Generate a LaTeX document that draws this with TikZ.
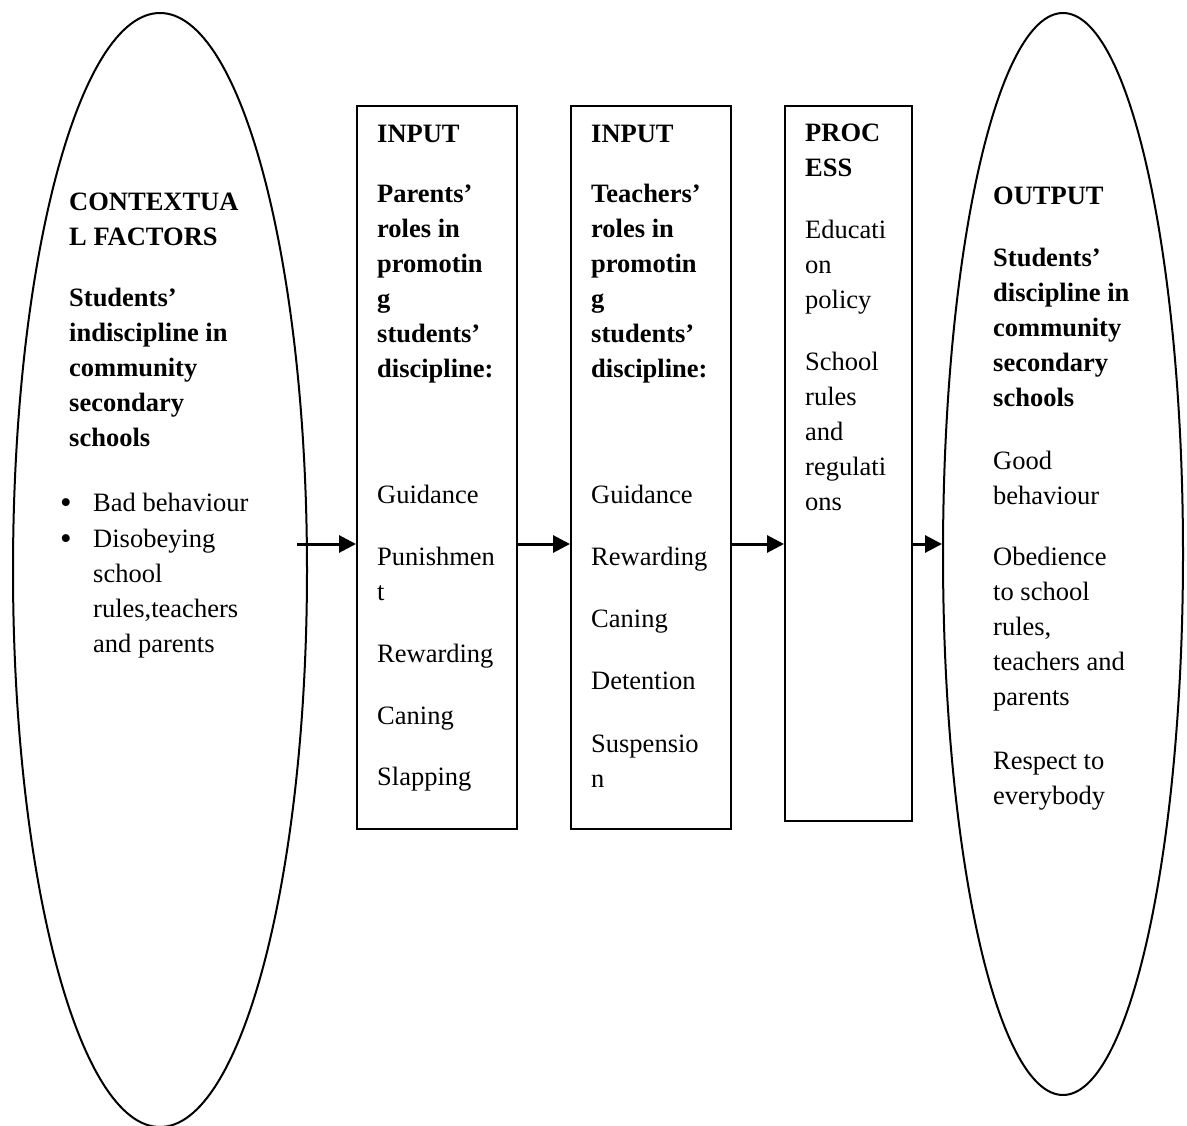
\documentclass[tikz,border=0pt]{standalone}
\usepackage{fontspec}
\setmainfont{Liberation Serif}
\usetikzlibrary{arrows.meta,shapes.geometric}
\begin{document}
\begin{tikzpicture}[x=1pt,y=-1pt,
  oval/.style={draw, ellipse, line width=2pt, inner sep=0pt},
  stagebox/.style={draw, line width=2pt, anchor=north west, inner sep=0pt},
  flow/.style={line width=3pt, -{Triangle[length=17pt,width=17pt]}},
  txt/.style={anchor=base west, align=left, inner sep=0pt, font=\fontsize{26.5}{35}\selectfont},
  txtb/.style={txt, font=\fontsize{26.5}{35}\selectfont\bfseries},
  bulletmark/.style={anchor=base west, inner sep=0pt, font=\fontsize{33}{35}\selectfont},
]
\useasboundingbox (0,0) rectangle (1187,1126);
% shapes
\node[oval, minimum width=294pt, minimum height=1114pt] (ctxE) at (160,570) {};
\node[oval, minimum width=240pt, minimum height=1082pt] (outE) at (1063,554) {};
\node[stagebox, minimum width=160pt, minimum height=723pt] (b1) at (356,105) {};
\node[stagebox, minimum width=160pt, minimum height=723pt] (b2) at (570,105) {};
\node[stagebox, minimum width=127pt, minimum height=715pt] (b3) at (784,105) {};
% connectors
\coordinate (s1) at (297,544);
\draw[flow] (s1) -- (s1 -| b1.west);
\draw[flow] (b1.east |- s1) -- (b2.west |- s1);
\draw[flow] (b2.east |- s1) -- (b3.west |- s1);
\draw[flow] (b3.east |- s1) -- (outE.west |- s1);
% left ellipse text (anchored at the baseline of the last line)
\node[txtb] (ctxT) at (69,446) {CONTEXTUA\\L FACTORS\\[26pt]Students’\\indiscipline in\\community\\secondary\\schools};
\node[bulletmark] (bul1) at (60,513) {•};
\node[bulletmark] (bul2) at (60,549) {•};
\node[txt] (ctxL) at (93,652) {Bad behaviour\\[1pt]Disobeying\\school\\rules,teachers\\and parents};
% box 1
\node[txtb] (b1h) at (377,377) {INPUT\\[25pt]Parents’\\roles in\\promotin\\g\\students’\\discipline:};
\node[txt] (b1l) at (377,785.5) {Guidance\\[27pt]Punishmen\\t\\[27pt]Rewarding\\[27pt]Caning\\[26pt]Slapping};
% box 2
\node[txtb] (b2h) at (591,377) {INPUT\\[25pt]Teachers’\\roles in\\promotin\\g\\students’\\discipline:};
\node[txt] (b2l) at (591,787.5) {Guidance\\[27pt]Rewarding\\[27pt]Caning\\[27pt]Detention\\[28pt]Suspensio\\n};
% box 3
\node[txtb] (b3h) at (805,177) {PROC\\ESS};
\node[txt] (b3l) at (805,510) {Educati\\on\\policy\\[26.5pt]School\\rules\\and\\regulati\\ons};
% right ellipse text
\node[txtb] (outH) at (993,406.5) {OUTPUT\\[27pt]Students’\\discipline in\\community\\secondary\\schools};
\node[txt] (outL) at (993,804.5) {Good\\behaviour\\[26pt]Obedience\\to school\\rules,\\teachers and\\parents\\[29pt]Respect to\\everybody};
\end{tikzpicture}
\end{document}
